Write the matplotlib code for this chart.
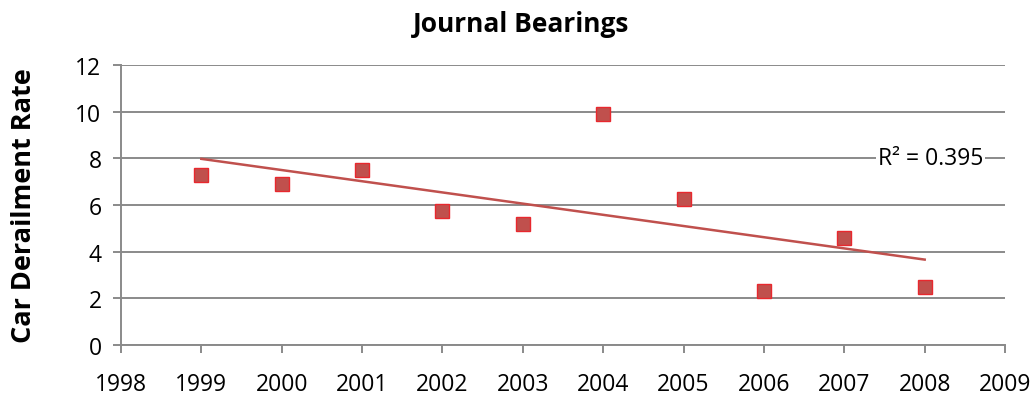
import matplotlib
matplotlib.use("Agg")
import matplotlib.pyplot as plt
import numpy as np

years = [1999, 2000, 2001, 2002, 2003, 2004, 2005, 2006, 2007, 2008]
rates = [7.3, 6.9, 7.5, 5.75, 5.2, 9.9, 6.25, 2.3, 4.6, 2.5]
title = "Journal Bearings"
ylabel = "Car Derailment Rate"
r2_label = "R² = 0.395"

plt.rcParams['font.family'] = ['Open Sans', 'DejaVu Sans']

fig = plt.figure(figsize=(10.34, 4.02), dpi=100)
ax = fig.add_axes([0.117, 0.139, 0.855, 0.697])

grid_c = '#8a8a8a'
ax.set_xlim(1998, 2009)
ax.set_ylim(0, 12)
ax.set_xticks(range(1998, 2010))
ax.set_yticks(range(0, 13, 2))
ax.yaxis.grid(True, color=grid_c, linewidth=1.4)
ax.set_axisbelow(True)
for s in ['top', 'right']:
    ax.spines[s].set_visible(False)
for s in ['left', 'bottom']:
    ax.spines[s].set_color(grid_c)
    ax.spines[s].set_linewidth(1.4)
ax.tick_params(axis='both', colors=grid_c, width=1.4, length=6, labelsize=16.5, labelcolor='black')
ax.tick_params(axis='x', pad=13)
ax.tick_params(axis='y', pad=8)

# trendline
coef = np.polyfit(years, rates, 1)
xs = np.array([years[0], years[-1]])
ax.plot(xs, np.polyval(coef, xs), color='#C0504D', linewidth=1.8, zorder=2)

ax.plot(years, rates, linestyle='none', marker='s', markersize=10,
        markerfacecolor='#C0504D', markeredgecolor='#E8282E', markeredgewidth=1.0, zorder=3)

ax.text(2008.07, 8, r2_label, ha='center', va='center', fontsize=16.5,
        bbox=dict(facecolor='white', edgecolor='none', pad=1.5), zorder=4)

fig.text(521 / 1034, 1 - 24 / 402, title, ha='center', va='center',
         fontsize=19, fontweight='bold')
ax.set_ylabel(ylabel, fontsize=19.5, fontweight='bold', labelpad=28)

fig.savefig('out.png', dpi=100)
